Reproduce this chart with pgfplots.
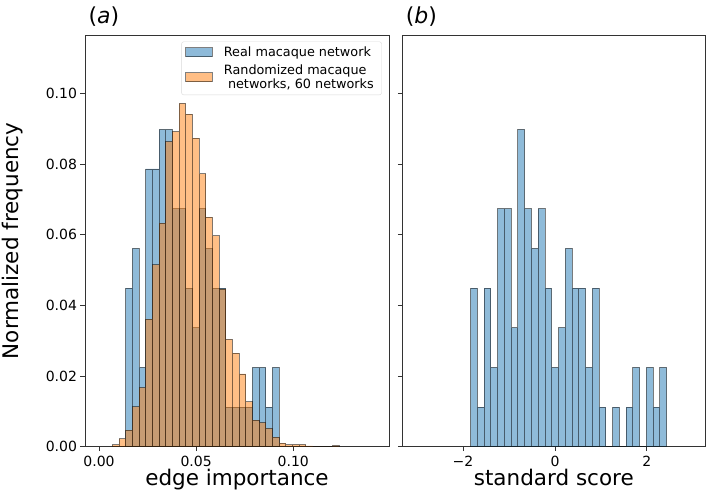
\documentclass[border=0pt]{standalone}
\usepackage{fontspec}
\setmainfont{DejaVu Sans}
\usepackage{pgfplots}
\pgfplotsset{compat=1.18}
\definecolor{mblue}{RGB}{31,119,180}
\definecolor{morange}{RGB}{255,127,14}
\pgfplotsset{
  hstyle/.style={
    scale only axis, height=411.7pt, anchor=south west,
    ymin=0, ymax=0.1166,
    ytick={0,0.02,0.04,0.06,0.08,0.10},
    axis line style={black!80, line width=0.9pt},
    tick style={black!80, line width=0.9pt},
    tick align=outside, major tick length=4.5pt,
    xtick pos=bottom, ytick pos=left,
    tick label style={font=\fontsize{14}{16}\selectfont},
    xticklabel style={yshift=-1pt},
    every axis x label/.style={at={(axis description cs:0.5,0)}, anchor=base, yshift=-38.3pt, font=\fontsize{21.5}{25}\selectfont},
    every axis y label/.style={at={([xshift=-66.7pt]axis description cs:0,0.5)}, rotate=90, anchor=base, font=\fontsize{21.5}{25}\selectfont},
    every axis title/.style={at={(axis description cs:0,1)}, anchor=base west, yshift=11.2pt, font=\fontsize{22}{26}\selectfont},
  },
  bluebars/.style={ybar interval, fill=mblue, fill opacity=0.5, draw=black, draw opacity=0.5, line width=0.9pt},
  orangebars/.style={ybar interval, fill=morange, fill opacity=0.5, draw=black, draw opacity=0.5, line width=0.9pt},
}
\begin{document}
\begin{tikzpicture}
\useasboundingbox (0,0) rectangle (708pt,492pt);
\begin{axis}[hstyle, at={(85pt,45.3pt)}, width=304pt,
  xmin=-0.00721, xmax=0.1493,
  xtick={0,0.05,0.1}, xticklabels={0.00,0.05,0.10},
  yticklabels={0.00,0.02,0.04,0.06,0.08,0.10},
  xlabel={edge importance}, ylabel={Normalized frequency},
  title={(\textit{a})},
  legend style={at={(axis description cs:0.976,0.984)}, anchor=north east,
    draw=black!15, rounded corners=2pt, fill=white, fill opacity=0.8, text opacity=1, draw opacity=1,
    font=\fontsize{12.8}{13.6}\selectfont, inner xsep=3.7pt, inner ysep=5pt,
    nodes={inner sep=0pt}, cells={anchor=west, align=left}, row sep=7pt, column sep=11pt},
  legend image code/.code={\draw[#1, sharp corners] (0pt,-4.5pt) rectangle (26.7pt,4.5pt);},
]
\addplot[bluebars] coordinates {
(0.01374,0.04494)
(0.017175,0.05618)
(0.02061,0.02247)
(0.024045,0.07865)
(0.02748,0.07865)
(0.030915,0.08989)
(0.03435,0.08989)
(0.037785,0.06742)
(0.04122,0.06742)
(0.044655,0.04494)
(0.04809,0.03371)
(0.051525,0.06742)
(0.05496,0.05618)
(0.058395,0.04494)
(0.06183,0.04494)
(0.065265,0.01124)
(0.0687,0.01124)
(0.072135,0.01124)
(0.07557,0.01124)
(0.079005,0.02247)
(0.08244,0.02247)
(0.085875,0.01124)
(0.08931,0.02247)
(0.092745,0)
};
\addlegendentry{Real macaque network}
\addplot[orangebars] coordinates {
(0.00687,0.0005)
(0.010305,0.0022)
(0.01374,0.0047)
(0.017175,0.0113)
(0.02061,0.0167)
(0.024045,0.0361)
(0.02748,0.0515)
(0.030915,0.0633)
(0.03435,0.0864)
(0.037785,0.0892)
(0.04122,0.0972)
(0.044655,0.0942)
(0.04809,0.0874)
(0.051525,0.0773)
(0.05496,0.0650)
(0.058395,0.0597)
(0.06183,0.0446)
(0.065265,0.0304)
(0.0687,0.0265)
(0.072135,0.0206)
(0.07557,0.0127)
(0.079005,0.0075)
(0.08244,0.0068)
(0.085875,0.0052)
(0.08931,0.0027)
(0.092745,0.0010)
(0.09618,0.0005)
(0.099615,0.0006)
(0.10305,0.0006)
(0.106485,0.0002)
(0.10992,0)
(0.113355,0)
(0.11679,0)
(0.120225,0.0003)
(0.12366,0)
};
\addlegendentry{Randomized macaque\\\hspace*{0.32em}networks, 60 networks\hspace*{4pt}}
\end{axis}
\begin{axis}[hstyle, at={(402.3pt,45.3pt)}, width=303pt,
  xmin=-3.32, xmax=3.27,
  xtick={-2,0,2}, xticklabels={−2,0,2},
  yticklabels={,,,,,},
  xlabel={standard score},
  title={(\textit{b})},
]
\addplot[bluebars] coordinates {
(-1.834,0.04494)
(-1.687,0.01124)
(-1.540,0.04494)
(-1.393,0.02247)
(-1.246,0.06742)
(-1.099,0.06742)
(-0.952,0.03371)
(-0.805,0.08989)
(-0.658,0.06742)
(-0.511,0.05618)
(-0.364,0.06742)
(-0.217,0.04494)
(-0.070,0.02247)
(0.077,0.03371)
(0.224,0.05618)
(0.371,0.04494)
(0.518,0.04494)
(0.665,0.02247)
(0.811,0.04494)
(0.958,0.01124)
(1.105,0)
(1.252,0.01124)
(1.399,0)
(1.546,0.01124)
(1.693,0.02247)
(1.840,0)
(1.987,0.02247)
(2.134,0.01124)
(2.281,0.02247)
(2.428,0)
};
\end{axis}
\end{tikzpicture}
\end{document}
